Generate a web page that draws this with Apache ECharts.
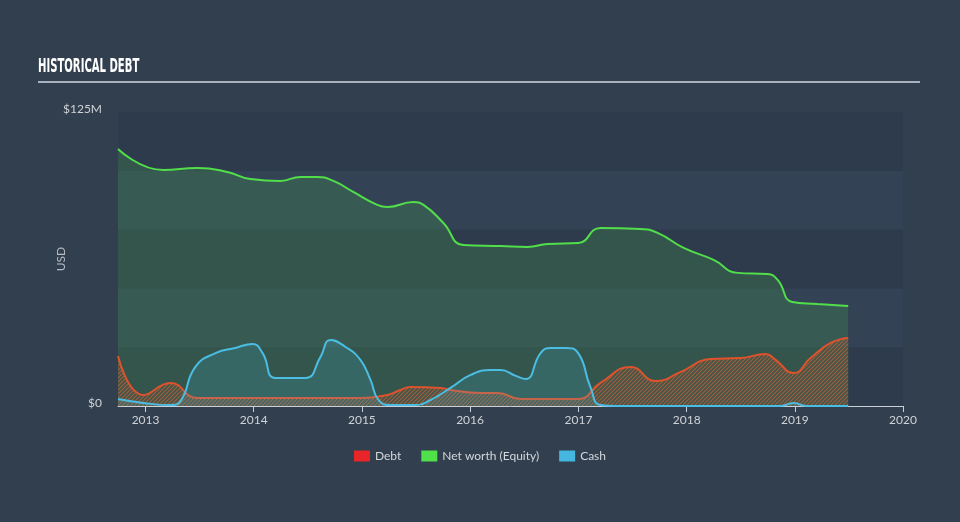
<!DOCTYPE html>
<html>
<head>
<meta charset="utf-8">
<script src="https://cdn.jsdelivr.net/npm/echarts@6/dist/echarts.min.js"></script>
<style>
html,body{margin:0;padding:0;background:#323f4f;}
#chart{width:960px;height:522px;}
</style>
</head>
<body>
<div id="chart"></div>
<script>
// ---- Data (values in $M) ----
const seriesNames = ['Debt', 'Net worth (Equity)', 'Cash'];
const yTickLabels = ['$0', '$125M'];

const equityDates = ['2012-09-30','2013-03-02','2013-06-25','2013-10-04','2013-12-21','2014-04-01','2014-06-08','2014-08-04','2014-09-27','2014-12-03','2015-02-22','2015-03-28','2015-06-24','2015-07-28','2015-10-03','2015-12-09','2016-04-13','2016-07-13','2016-09-19','2016-12-31','2017-03-16','2017-07-29','2017-09-25','2017-12-22','2018-04-02','2018-06-22','2018-10-01','2018-11-04','2018-12-24','2019-03-18','2019-06-30'];
const equityValues = [109.3,100.3,101.2,99.5,96.5,95.7,97.4,97.4,95.7,91.0,85.5,84.6,86.7,85.5,77.8,68.5,68.0,67.6,68.9,69.3,75.7,75.3,73.6,67.2,62.1,56.6,56.1,53.6,44.2,43.4,42.5];

const debtDates = ['2012-09-30','2012-12-25','2013-03-26','2013-06-25','2013-12-31','2014-12-27','2015-03-28','2015-05-11','2015-06-14','2015-09-23','2015-10-27','2016-02-06','2016-04-03','2016-06-19','2016-12-31','2017-03-16','2017-06-26','2017-09-18','2017-12-12','2018-03-23','2018-07-02','2018-09-24','2018-10-28','2018-12-28','2019-02-23','2019-05-02','2019-06-30'];
const debtValues = [21.3,4.7,9.8,3.4,3.4,3.4,4.7,6.8,8.1,7.7,6.8,5.5,5.5,3.0,3.0,9.8,16.6,10.6,14.5,20.0,20.4,22.1,19.6,14.0,20.4,26.8,28.9];

const cashDates = ['2012-09-30','2012-12-25','2013-03-26','2013-04-29','2013-06-18','2013-08-25','2013-10-31','2013-12-28','2014-01-31','2014-03-15','2014-06-25','2014-08-14','2014-09-17','2014-11-07','2014-12-27','2015-01-30','2015-02-26','2015-04-08','2015-07-01','2015-08-21','2015-10-27','2016-01-03','2016-03-10','2016-04-13','2016-06-03','2016-07-07','2016-08-26','2016-09-29','2016-11-18','2016-12-31','2017-02-10','2017-03-16','2017-05-23','2018-11-14','2018-12-28','2019-02-07','2019-06-30'];
const cashValues = [3.0,1.3,0.4,2.1,16.6,22.5,24.7,26.4,22.5,11.9,11.9,20.8,28.1,25.1,19.6,11.1,2.6,0.4,0.4,2.6,7.7,13.2,15.3,15.3,12.8,11.5,22.5,24.7,24.7,22.5,8.1,0.4,0,0,1.3,0,0];

function zip(d, v){ return d.map((x,i)=>[x, v[i]]); }

// hatch pattern for debt area
const pc = document.createElement('canvas');
pc.width = 4; pc.height = 4;
const pctx = pc.getContext('2d');
pctx.fillStyle = 'rgba(95,85,70,0.55)';
pctx.fillRect(0,0,4,4);
pctx.strokeStyle = 'rgba(215,100,55,0.95)';
pctx.lineWidth = 1.1;
pctx.beginPath();
pctx.moveTo(0,4); pctx.lineTo(4,0);
pctx.moveTo(-1,1); pctx.lineTo(1,-1);
pctx.moveTo(3,5); pctx.lineTo(5,3);
pctx.stroke();

const FONT = 'Lato, "Open Sans", sans-serif';
const chart = echarts.init(document.getElementById('chart'), null, {renderer:'canvas'});
chart.setOption({
  backgroundColor: '#323f4f',
  animation: false,
  graphic: [
    { type:'text', left:38, top:57, scaleX:0.56, style:{ text:'HISTORICAL DEBT', fill:'#ffffff', font:'bold 20px "DejaVu Sans Condensed", sans-serif' } },
    { type:'rect', shape:{x:38, y:81, width:882, height:2}, style:{ fill:'#a9b2bc' } }
  ],
  grid: { left:118, right:57, top:112, bottom:116 },
  legend: {
    bottom: 55, left: 'center',
    itemWidth: 16, itemHeight: 11, itemGap: 20,
    icon: 'rect',
    textStyle: { color:'#d3d7dc', fontSize:12, fontFamily:FONT },
    data: [
      { name: seriesNames[0], itemStyle:{ color:'#e8262a' } },
      { name: seriesNames[1], itemStyle:{ color:'#4fe04a' } },
      { name: seriesNames[2], itemStyle:{ color:'#45b6df' } }
    ]
  },
  xAxis: {
    type: 'time',
    min: '2012-09-30', max: '2020-01-01',
    minInterval: 365*24*3600*1000,
    axisLine: { show:true, lineStyle:{ color:'#c9d0d8', width:1 } },
    axisTick: { show:true, length:6, lineStyle:{ color:'#c9d0d8' } },
    axisLabel: { color:'#cfd3d8', fontSize:12, fontFamily:FONT, margin:8, formatter:'{yyyy}', showMaxLabel:true },
    splitLine: { show:false }
  },
  yAxis: {
    type: 'value', min:0, max:125, interval:25,
    name: 'USD', nameLocation:'middle', nameGap:51, nameRotate:90, nameMoveOverlap:false,
    nameTextStyle: { color:'#b6bcc4', fontSize:12, fontFamily:FONT },
    axisLine: { show:false }, axisTick: { show:false },
    axisLabel: { color:'#cfd3d8', fontSize:12, fontFamily:FONT, margin:16, verticalAlign:'bottom', lineHeight:6,
      formatter: v => v === 0 ? yTickLabels[0] : (v === 125 ? yTickLabels[1] : '') },
    splitLine: { show:false },
    splitArea: { show:true, areaStyle:{ color:['#2e3b4c','#334254'] } }
  },
  series: [
    { name: seriesNames[1], type:'line', data: zip(equityDates, equityValues), smooth:0.5,
      symbol:'none', lineStyle:{ color:'#52de4a', width:2 }, itemStyle:{ color:'#52de4a' },
      areaStyle:{ color:'rgba(76,200,80,0.27)' }, z:2 },
    { name: seriesNames[0], type:'line', data: zip(debtDates, debtValues), smooth:0.5,
      symbol:'none', lineStyle:{ color:'#e0522c', width:2 }, itemStyle:{ color:'#e0522c' },
      areaStyle:{ color:{ image: pc, repeat:'repeat' } }, z:3 },
    { name: seriesNames[2], type:'line', data: zip(cashDates, cashValues), smooth:0.5,
      symbol:'none', lineStyle:{ color:'#4bbde2', width:2 }, itemStyle:{ color:'#4bbde2' },
      areaStyle:{ color:'rgba(72,185,220,0.25)' }, z:4 }
  ]
});
</script>
</body>
</html>
